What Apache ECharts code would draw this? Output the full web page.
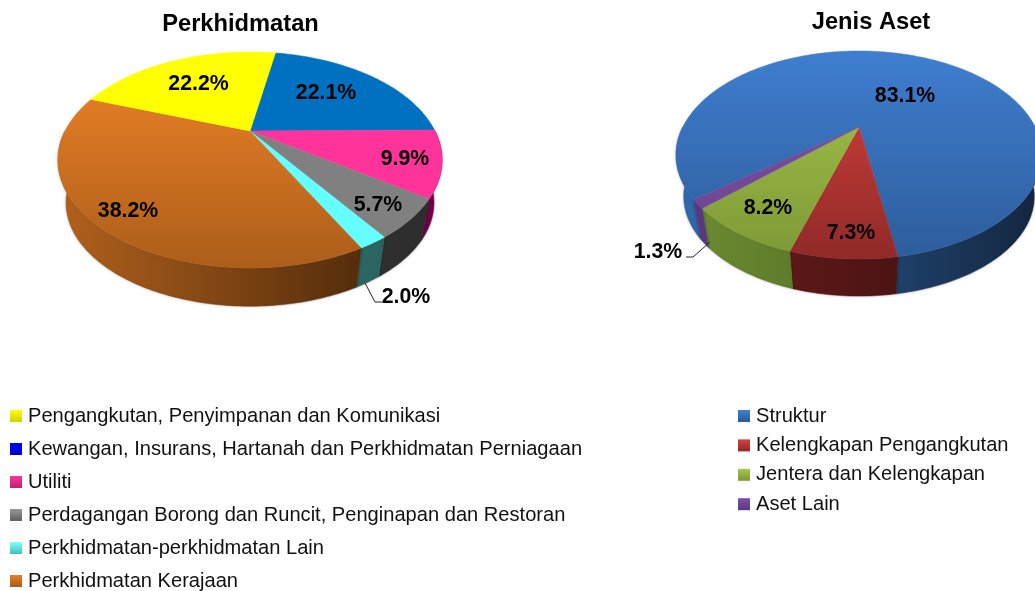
<!DOCTYPE html>
<html>
<head>
<meta charset="utf-8">
<title>Perkhidmatan dan Jenis Aset</title>
<script src="https://cdn.jsdelivr.net/npm/echarts@6/dist/echarts.min.js"></script>
<style>
  html, body { margin: 0; padding: 0; background: #fff; }
  #chart { width: 1035px; height: 591px; }
</style>
</head>
<body>
<div id="chart"></div>
<script>
// data
const serviceNames = [
  'Kewangan, Insurans, Hartanah dan Perkhidmatan Perniagaan',
  'Utiliti',
  'Perdagangan Borong dan Runcit, Penginapan dan Restoran',
  'Perkhidmatan-perkhidmatan Lain',
  'Perkhidmatan Kerajaan',
  'Pengangkutan, Penyimpanan dan Komunikasi'
];
const serviceValues = [22.1, 9.9, 5.7, 2.0, 38.2, 22.2];
// legend shows them in another order than the slices
const serviceLegend = [5, 0, 1, 2, 3, 4];

const assetNames = ['Struktur', 'Kelengkapan Pengangkutan', 'Jentera dan Kelengkapan', 'Aset Lain'];
const assetValues = [83.1, 7.3, 8.2, 1.3];
const assetLegend = [0, 1, 2, 3];

// pie geometry, k is the perspective of the tilted disc
const servicePie = {
  cx: 250, cy: 131, rx: 185, ry: 100.2, k: 0.2685, start: 10, shrink: 0.958, depth: 44,
  top: [['#0070c0', '#0070c0'], ['#ff3399', '#ff3399'], ['#808080', '#808080'], ['#66ffff', '#66ffff'], ['#f08428', '#ab5d1a'], ['#ffff00', '#ffff00']],
  side: [['#00406e', '#00233e'], ['#a0005a', '#6e0048'], ['#444444', '#2c2c2c'], ['#2f7874', '#2a625e'], ['#b0601c', '#3e2008'], ['#8c8c00', '#555500']],
  icons: [['#0000ff', '#0000c0'], ['#ff3399', '#c02070'], ['#989898', '#606060'], ['#80ffff', '#40c0c0'], ['#e88028', '#a85818'], ['#ffff00', '#d0d000']],
  labels: [[76, -38], [155, 28], [128, 74], [156, 166], [-122, 80], [-51.5, -47]],
  leaders: { 3: [[115, 152], [125, 171], [132, 171]] }
};
const assetPie = {
  cx: 859, cy: 127, rx: 176.2, ry: 96.5, k: 0.269, start: 231.2, shrink: 0.958, depth: 42.6,
  top: [['#3f7ed0', '#2d5c9a'], ['#d8423e', '#8f2a28'], ['#a6c84a', '#7c9836'], ['#7f52a6', '#6a4490']],
  side: [['#3069ae', '#14263f'], ['#6a1c1c', '#3a0e0e'], ['#6c8c30', '#445820'], ['#5a3a80', '#46306a']],
  icons: [['#4080d0', '#2a5a9a'], ['#d84040', '#902828'], ['#a6c84a', '#7a9636'], ['#8050a8', '#5a3a80']],
  labels: [[46, -31], [-8, 106], [-91, 81], [-201, 125]],
  leaders: { 3: [[-149, 115], [-166, 130], [-173, 130]] }
};

const font = '"Liberation Sans", Arial, sans-serif';

function project(pie, deg, r, s, dz) {
  const a = deg * Math.PI / 180;
  const u = r * Math.sin(a);
  const v = -r * Math.cos(a);
  const w = 1 - pie.k * v;
  return [
    pie.cx + s * pie.rx * u / w,
    pie.cy + s * pie.ry * v / w + dz
  ];
}

function arc(pie, from, to, s, dz) {
  const pts = [];
  const n = Math.max(2, Math.ceil(to - from));
  for (let i = 0; i <= n; i++) {
    pts.push(project(pie, from + (to - from) * i / n, 1, s, dz));
  }
  return pts;
}

// only the part of the rim facing the viewer gets a side wall
function frontRanges(from, to) {
  const out = [];
  [-360, 0, 360].forEach(turn => {
    const a = Math.max(from, 90 + turn);
    const b = Math.min(to, 270 + turn);
    if (b > a) out.push([a, b]);
  });
  return out;
}

function sliceSeries(pie, names, values, idx) {
  const total = values.reduce((a, b) => a + b, 0);
  const before = values.slice(0, idx).reduce((a, b) => a + b, 0);
  const from = pie.start + before / total * 360;
  const to = from + values[idx] / total * 360;
  const topGrad = new echarts.graphic.LinearGradient(0, pie.cy - pie.ry * 0.8, 0, pie.cy + pie.ry * 1.4, [
    { offset: 0, color: pie.top[idx][0] }, { offset: 1, color: pie.top[idx][1] }
  ], true);
  const sideGrad = new echarts.graphic.LinearGradient(pie.cx - pie.rx, 0, pie.cx + pie.rx, 0, [
    { offset: 0, color: pie.side[idx][0] }, { offset: 1, color: pie.side[idx][1] }
  ], true);

  return {
    type: 'custom',
    name: names[idx],
    coordinateSystem: 'none',
    silent: true,
    data: [values[idx]],
    itemStyle: { color: pie.top[idx][0] },
    renderItem: function (params, api) {
      const upper = arc(pie, from, to, 1, 0);
      const children = frontRanges(from, to).map(r => ({
        type: 'polygon',
        z2: 1,
        shape: { points: arc(pie, r[0], r[1], 1, 0).concat(arc(pie, r[0], r[1], pie.shrink, pie.depth).reverse()) },
        style: { fill: sideGrad, stroke: sideGrad, lineWidth: 0.5, shadowBlur: 3, shadowColor: 'rgba(0,0,0,0.25)' }
      }));
      children.push({
        type: 'polygon',
        z2: 2,
        shape: { points: [[pie.cx, pie.cy]].concat(upper) },
        style: { fill: topGrad, stroke: topGrad, lineWidth: 0.5 }
      }, {
        type: 'text',
        z2: 4,
        style: {
          x: pie.cx + pie.labels[idx][0],
          y: pie.cy + pie.labels[idx][1],
          text: api.value(0).toFixed(1) + '%',
          fill: '#000',
          font: 'bold 21.3px ' + font,
          align: 'center',
          verticalAlign: 'middle'
        }
      });
      if (pie.leaders[idx]) {
        children.push({
          type: 'polyline',
          z2: 3,
          shape: { points: pie.leaders[idx].map(p => [pie.cx + p[0], pie.cy + p[1]]) },
          style: { fill: 'none', stroke: '#262626', lineWidth: 1 }
        });
      }
      return { type: 'group', children: children };
    }
  };
}

function legendOf(pie, names, order, left, gap) {
  return {
    left: left,
    top: 406,
    orient: 'vertical',
    icon: 'rect',
    itemWidth: 12,
    itemHeight: 12,
    itemGap: gap,
    padding: 0,
    selectedMode: false,
    textStyle: { fontFamily: font, fontSize: 20.1, color: '#111', padding: [0, 0, 0, 1] },
    data: order.map(i => ({
      name: names[i],
      itemStyle: {
        color: new echarts.graphic.LinearGradient(0, 0, 0, 1, [
          { offset: 0, color: pie.icons[i][0] }, { offset: 1, color: pie.icons[i][1] }
        ])
      }
    }))
  };
}

const chart = echarts.init(document.getElementById('chart'), null, { renderer: 'canvas' });
chart.setOption({
  animation: false,
  backgroundColor: '#fff',
  title: [
    { text: 'Perkhidmatan', left: 235.5, top: 7, textAlign: 'center', textStyle: { fontFamily: font, fontSize: 23.7, fontWeight: 'bold', color: '#000' } },
    { text: 'Jenis Aset', left: 866, top: 5, textAlign: 'center', textStyle: { fontFamily: font, fontSize: 23.7, fontWeight: 'bold', color: '#000' } }
  ],
  legend: [
    legendOf(servicePie, serviceNames, serviceLegend, 10, 13),
    legendOf(assetPie, assetNames, assetLegend, 738, 9.4)
  ],
  series: serviceValues.map((v, i) => sliceSeries(servicePie, serviceNames, serviceValues, i))
    .concat(assetValues.map((v, i) => sliceSeries(assetPie, assetNames, assetValues, i)))
});
</script>
</body>
</html>
